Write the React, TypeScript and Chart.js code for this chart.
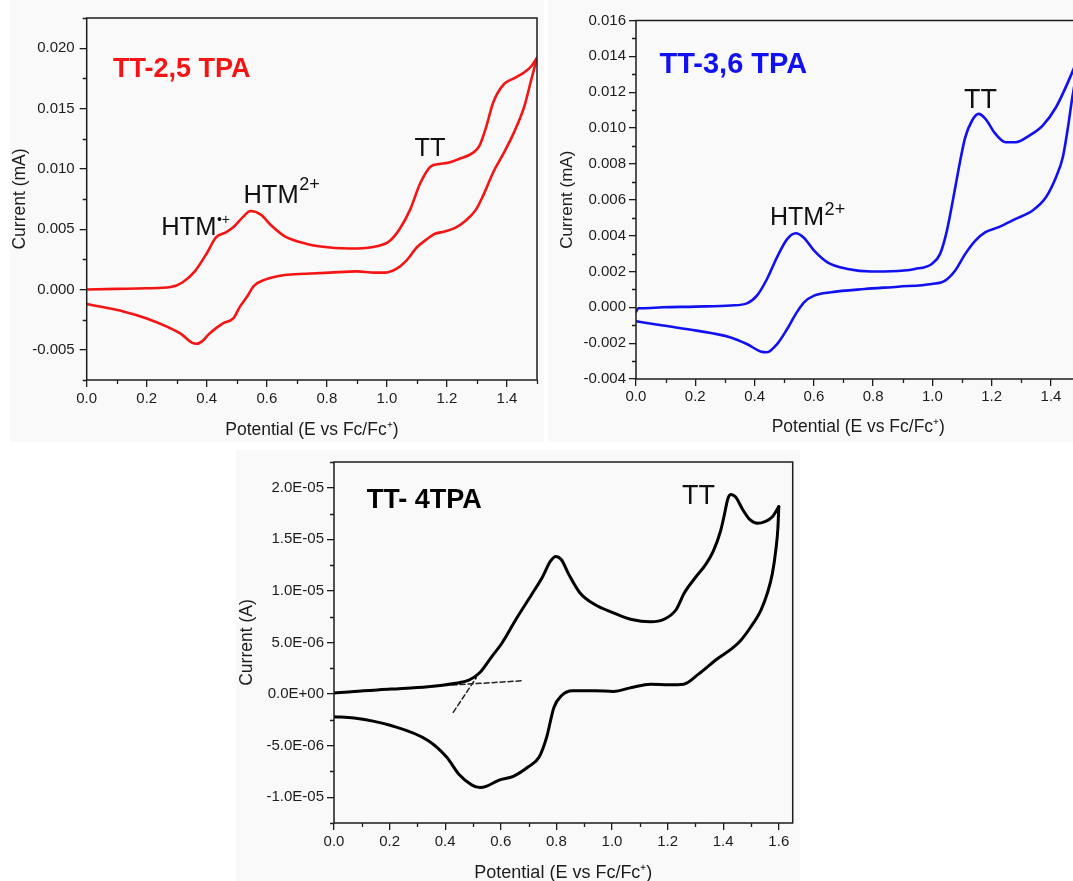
import React, { useEffect, useRef } from "react";
import { Chart, registerables } from "chart.js";

Chart.register(...registerables);

const FONT = '"Liberation Sans", Arial, Helvetica, sans-serif';
const BG = "#f9f9f9";
const INK = "#1c1c1c";

// ---------- Panel 1: TT-2,5 TPA (red) ----------
const p1FwdX = [0, 0.1, 0.2, 0.28, 0.32, 0.36, 0.4, 0.43, 0.465, 0.49, 0.52, 0.546, 0.58, 0.615, 0.66, 0.73, 0.81, 0.9, 0.97, 1.008, 1.042, 1.077, 1.111, 1.146, 1.175, 1.204, 1.238, 1.285, 1.308, 1.331, 1.354, 1.389, 1.423, 1.458, 1.481, 1.5];
const p1FwdY = [0, 0.00005, 0.0001, 0.0002, 0.0006, 0.0015, 0.003, 0.0043, 0.00475, 0.0052, 0.006, 0.0065, 0.0062, 0.0053, 0.0044, 0.0038, 0.00348, 0.0034, 0.0036, 0.004, 0.005, 0.0066, 0.0088, 0.0102, 0.0104, 0.0105, 0.0108, 0.0113, 0.0119, 0.0135, 0.0155, 0.017, 0.0175, 0.018, 0.0185, 0.0192];
const p1RevX = [1.5, 1.481, 1.458, 1.423, 1.389, 1.354, 1.319, 1.296, 1.262, 1.227, 1.192, 1.158, 1.135, 1.1, 1.065, 1.031, 0.996, 0.96, 0.9, 0.81, 0.73, 0.66, 0.592, 0.557, 0.534, 0.511, 0.488, 0.454, 0.431, 0.407, 0.384, 0.367, 0.35, 0.315, 0.269, 0.2, 0.119, 0.061, 0];
const p1RevY = [0.0192, 0.0174, 0.0152, 0.013, 0.0113, 0.0097, 0.0077, 0.0066, 0.0057, 0.0051, 0.0048, 0.0046, 0.0042, 0.0035, 0.0024, 0.0017, 0.0014, 0.0014, 0.0015, 0.0014, 0.0013, 0.0012, 0.0008, 0.0003, -0.0006, -0.0014, -0.0024, -0.0028, -0.0032, -0.0037, -0.0043, -0.0045, -0.0044, -0.0037, -0.0031, -0.0024, -0.0018, -0.0015, -0.0012];
const p1XTicks = [0, 0.2, 0.4, 0.6, 0.8, 1.0, 1.2, 1.4];
const p1XTickLabels = ["0.0", "0.2", "0.4", "0.6", "0.8", "1.0", "1.2", "1.4"];
const p1YTicks = [-0.005, 0, 0.005, 0.01, 0.015, 0.02];
const p1YTickLabels = ["-0.005", "0.000", "0.005", "0.010", "0.015", "0.020"];

// ---------- Panel 2: TT-3,6 TPA (blue) ----------
const p2FwdX = [0, 0.008, 0.02, 0.09, 0.2, 0.32, 0.374, 0.408, 0.442, 0.476, 0.51, 0.539, 0.567, 0.601, 0.646, 0.714, 0.794, 0.862, 0.941, 0.998, 1.026, 1.049, 1.071, 1.094, 1.111, 1.134, 1.156, 1.179, 1.213, 1.247, 1.281, 1.327, 1.372, 1.417, 1.472, 1.5];
const p2FwdY = [-0.00025, -0.00005, -0.00005, 0, 0.00004, 0.0001, 0.00022, 0.00065, 0.00158, 0.0028, 0.0038, 0.00413, 0.00387, 0.00316, 0.00251, 0.00214, 0.002, 0.00201, 0.00214, 0.00242, 0.00298, 0.00428, 0.00614, 0.00819, 0.00949, 0.01042, 0.01079, 0.01051, 0.00967, 0.00921, 0.00921, 0.00958, 0.01014, 0.01116, 0.01312, 0.0143];
const p2RevX = [1.5, 1.472, 1.457, 1.44, 1.417, 1.383, 1.338, 1.281, 1.224, 1.179, 1.145, 1.111, 1.077, 1.043, 0.998, 0.884, 0.771, 0.658, 0.601, 0.567, 0.539, 0.51, 0.476, 0.442, 0.42, 0.374, 0.317, 0.204, 0.091, 0];
const p2RevY = [0.0143, 0.0117, 0.01, 0.00837, 0.00726, 0.00614, 0.0054, 0.00493, 0.00447, 0.00419, 0.00372, 0.00298, 0.00205, 0.00149, 0.0013, 0.00115, 0.00102, 0.00084, 0.00065, 0.00028, -0.00037, -0.00121, -0.00205, -0.00251, -0.00246, -0.00205, -0.00167, -0.0013, -0.00102, -0.00078];
const p2XTicks = [0, 0.2, 0.4, 0.6, 0.8, 1.0, 1.2, 1.4];
const p2XTickLabels = ["0.0", "0.2", "0.4", "0.6", "0.8", "1.0", "1.2", "1.4"];
const p2YTicks = [-0.004, -0.002, 0, 0.002, 0.004, 0.006, 0.008, 0.01, 0.012, 0.014, 0.016];
const p2YTickLabels = ["-0.004", "-0.002", "0.000", "0.002", "0.004", "0.006", "0.008", "0.010", "0.012", "0.014", "0.016"];

// ---------- Panel 3: TT- 4TPA (black), current in A ----------
const p3FwdX = [0, 0.072, 0.205, 0.338, 0.432, 0.485, 0.525, 0.565, 0.605, 0.658, 0.711, 0.751, 0.778, 0.798, 0.818, 0.845, 0.885, 0.938, 1.005, 1.071, 1.138, 1.191, 1.231, 1.26, 1.3, 1.338, 1.364, 1.39, 1.404, 1.417, 1.428, 1.444, 1.471, 1.497, 1.524, 1.55, 1.577, 1.6];
const p3FwdY = [0.1e-6, 0.26e-6, 0.48e-6, 0.71e-6, 1.03e-6, 1.35e-6, 2.09e-6, 3.54e-6, 4.98e-6, 7.4e-6, 9.65e-6, 11.4e-6, 12.86e-6, 13.34e-6, 13.02e-6, 11.58e-6, 9.8e-6, 8.68e-6, 7.88e-6, 7.23e-6, 7.0e-6, 7.3e-6, 8.2e-6, 9.8e-6, 11.3e-6, 12.6e-6, 13.83e-6, 15.76e-6, 17.36e-6, 18.97e-6, 19.36e-6, 19.13e-6, 17.85e-6, 16.88e-6, 16.56e-6, 16.72e-6, 17.2e-6, 18.17e-6];
const p3RevX = [1.6, 1.597, 1.589, 1.577, 1.559, 1.535, 1.499, 1.463, 1.431, 1.378, 1.311, 1.258, 1.204, 1.138, 1.071, 1.005, 0.938, 0.858, 0.818, 0.791, 0.765, 0.738, 0.698, 0.645, 0.592, 0.552, 0.525, 0.495, 0.45, 0.405, 0.338, 0.205, 0.072, 0];
const p3RevY = [18.17e-6, 16.2e-6, 13.9e-6, 11.7e-6, 9.8e-6, 8.1e-6, 6.5e-6, 5.2e-6, 4.4e-6, 3.4e-6, 1.93e-6, 0.96e-6, 0.9e-6, 0.96e-6, 0.64e-6, 0.26e-6, 0.32e-6, 0.32e-6, -0.16e-6, -1.29e-6, -4.18e-6, -6.11e-6, -7.07e-6, -7.97e-6, -8.36e-6, -8.9e-6, -9.07e-6, -8.8e-6, -7.8e-6, -6.11e-6, -4.5e-6, -3.05e-6, -2.32e-6, -2.19e-6];
const p3BaseX = [0.425, 0.678];
const p3BaseY = [0.87e-6, 1.29e-6];
const p3SlopeX = [0.429, 0.512];
const p3SlopeY = [-1.77e-6, 1.6e-6];
const p3XTicks = [0, 0.2, 0.4, 0.6, 0.8, 1.0, 1.2, 1.4, 1.6];
const p3XTickLabels = ["0.0", "0.2", "0.4", "0.6", "0.8", "1.0", "1.2", "1.4", "1.6"];
const p3YTicks = [-1e-5, -5e-6, 0, 5e-6, 1e-5, 1.5e-5, 2e-5];
const p3YTickLabels = ["-1.0E-05", "-5.0E-06", "0.0E+00", "5.0E-06", "1.0E-05", "1.5E-05", "2.0E-05"];

type Series = { x: number[]; y: number[]; color: string; width: number; dash?: number[]; straight?: boolean };
type Note = { text: string; sup?: string; x: number; y: number; size: number; bold?: boolean; color: string; supSize?: number; supRaise?: number };
type PanelCfg = {
  left: number; top: number; w: number; h: number;
  area: { left: number; top: number; right: number; bottom: number };
  xMin: number; xMax: number; yMin: number; yMax: number;
  xTicks: number[]; xTickLabels: string[]; xMinor: number;
  yTicks: number[]; yTickLabels: string[]; yMinor: number;
  tickFont: number; xTickPad: number; yTickPad: number;
  xTitle: string; xTitleSize: number; xTitlePad: number;
  yTitle: string; yTitleSize: number; yTitlePad: number;
  series: Series[];
  notes: Note[];
};

const X_TITLE = "Potential (E vs Fc/Fc\u207A)";

const panels: PanelCfg[] = [
  {
    left: 10, top: 0, w: 534, h: 442,
    area: { left: 76.7, top: 18, right: 527, bottom: 380 },
    xMin: 0, xMax: 1.5, yMin: -0.0075, yMax: 0.0225,
    xTicks: p1XTicks, xTickLabels: p1XTickLabels, xMinor: 0.1,
    yTicks: p1YTicks, yTickLabels: p1YTickLabels, yMinor: 0.0025,
    tickFont: 15, xTickPad: 3, yTickPad: 5,
    xTitle: X_TITLE, xTitleSize: 17.5, xTitlePad: 1.5,
    yTitle: "Current (mA)", yTitleSize: 17.5, yTitlePad: 0,
    series: [
      { x: p1FwdX, y: p1FwdY, color: "#f41414", width: 2.6 },
      { x: p1RevX, y: p1RevY, color: "#f41414", width: 2.6 },
    ],
    notes: [
      { text: "TT-2,5 TPA", x: 0.0877, y: 0.01763, size: 27, bold: true, color: "#f41414" },
      { text: "HTM", sup: "\u2022+", x: 0.248, y: 0.004545, size: 25.5, color: "#111", supSize: 14, supRaise: 11 },
      { text: "HTM", sup: "2+", x: 0.522, y: 0.00717, size: 25.5, color: "#111", supSize: 18, supRaise: 12.6 },
      { text: "TT", x: 1.092, y: 0.01107, size: 25.5, color: "#111" },
    ],
  },
  {
    left: 548, top: 0, w: 542, h: 442,
    area: { left: 88, top: 20.5, right: 532.6, bottom: 379 },
    xMin: 0, xMax: 1.5, yMin: -0.004, yMax: 0.016,
    xTicks: p2XTicks, xTickLabels: p2XTickLabels, xMinor: 0.1,
    yTicks: p2YTicks, yTickLabels: p2YTickLabels, yMinor: 0.001,
    tickFont: 15, xTickPad: 2, yTickPad: 3,
    xTitle: X_TITLE, xTitleSize: 17.5, xTitlePad: 4.5,
    yTitle: "Current (mA)", yTitleSize: 17, yTitlePad: 8.8,
    series: [
      { x: p2FwdX, y: p2FwdY, color: "#1010f0", width: 2.6 },
      { x: p2RevX, y: p2RevY, color: "#1010f0", width: 2.6 },
    ],
    notes: [
      { text: "TT-3,6 TPA", x: 0.0793, y: 0.01306, size: 29, bold: true, color: "#1010f0" },
      { text: "TT", x: 1.107, y: 0.01111, size: 27, color: "#111" },
      { text: "HTM", sup: "2+", x: 0.452, y: 0.0046, size: 25, color: "#111", supSize: 18, supRaise: 10 },
    ],
  },
  {
    left: 236, top: 450, w: 564, h: 440,
    area: { left: 98, top: 10, right: 556.7, bottom: 373 },
    xMin: 0, xMax: 1.65, yMin: -1.25e-5, yMax: 2.25e-5,
    xTicks: p3XTicks, xTickLabels: p3XTickLabels, xMinor: 0.1,
    yTicks: p3YTicks, yTickLabels: p3YTickLabels, yMinor: 2.5e-6,
    tickFont: 15, xTickPad: 3, yTickPad: 3,
    xTitle: X_TITLE, xTitleSize: 18, xTitlePad: 6,
    yTitle: "Current (A)", yTitleSize: 17.5, yTitlePad: 0.5,
    series: [
      { x: p3FwdX, y: p3FwdY, color: "#000", width: 3 },
      { x: p3RevX, y: p3RevY, color: "#000", width: 3 },
      { x: p3BaseX, y: p3BaseY, color: "#222", width: 1.5, dash: [5, 3], straight: true },
      { x: p3SlopeX, y: p3SlopeY, color: "#222", width: 1.5, dash: [5, 3], straight: true },
    ],
    notes: [
      { text: "TT- 4TPA", x: 0.118, y: 1.802e-5, size: 27, bold: true, color: "#000" },
      { text: "TT", x: 1.252, y: 1.84e-5, size: 27, color: "#111" },
    ],
  },
];

function labelFor(ticks: number[], labels: string[], v: number) {
  const i = ticks.findIndex((t) => Math.abs(t - v) < 1e-12);
  return i >= 0 ? labels[i] : "";
}

function makeDecor(cfg: PanelCfg) {
  return {
    id: "decor",
    afterDraw(chart: any) {
      const { ctx, chartArea: a, scales } = chart;
      const xs = scales.x;
      const ys = scales.y;
      ctx.save();
      ctx.strokeStyle = INK;
      ctx.lineWidth = 1.3;
      ctx.beginPath();
      const isMajor = (arr: number[], v: number, eps: number) => arr.some((t) => Math.abs(t - v) < eps);
      const ys0 = Math.ceil(cfg.yMin / cfg.yMinor - 1e-9);
      for (let k = ys0; k * cfg.yMinor <= cfg.yMax + 1e-12; k++) {
        const v = k * cfg.yMinor;
        if (isMajor(cfg.yTicks, v, cfg.yMinor * 0.01)) continue;
        const py = Math.round(ys.getPixelForValue(v)) + 0.5;
        ctx.moveTo(a.left - 4, py);
        ctx.lineTo(a.left, py);
      }
      const xs0 = Math.ceil(cfg.xMin / cfg.xMinor - 1e-9);
      for (let k = xs0; k * cfg.xMinor <= cfg.xMax + 1e-9; k++) {
        const v = k * cfg.xMinor;
        if (isMajor(cfg.xTicks, v, cfg.xMinor * 0.01)) continue;
        const px = Math.round(xs.getPixelForValue(v)) + 0.5;
        ctx.moveTo(px, a.bottom);
        ctx.lineTo(px, a.bottom + 4);
      }
      ctx.stroke();
      ctx.lineWidth = 1.5;
      ctx.strokeRect(a.left, a.top, a.right - a.left, a.bottom - a.top);
      ctx.textBaseline = "alphabetic";
      ctx.textAlign = "left";
      for (const n of cfg.notes) {
        const px = xs.getPixelForValue(n.x);
        const py = ys.getPixelForValue(n.y);
        ctx.fillStyle = n.color;
        ctx.font = `${n.bold ? "bold " : ""}${n.size}px ${FONT}`;
        ctx.fillText(n.text, px, py);
        if (n.sup) {
          const w = ctx.measureText(n.text).width;
          ctx.font = `${n.supSize}px ${FONT}`;
          ctx.fillText(n.sup, px + w + 0.5, py - (n.supRaise || 0));
        }
      }
      ctx.restore();
    },
  };
}

function buildConfig(cfg: PanelCfg): any {
  const tickFont = { family: FONT, size: cfg.tickFont };
  return {
    type: "scatter",
    data: {
      datasets: cfg.series.map((s) => ({
        data: s.x.map((x, i) => ({ x, y: s.y[i] })),
        showLine: true,
        borderColor: s.color,
        backgroundColor: s.color,
        borderWidth: s.width,
        borderDash: s.dash || [],
        pointRadius: 0,
        pointHoverRadius: 0,
        cubicInterpolationMode: s.straight ? "default" : "monotone",
        tension: s.straight ? 0 : 0.4,
        fill: false,
        borderCapStyle: "round",
        borderJoinStyle: "round",
      })),
    },
    options: {
      responsive: false,
      animation: false,
      devicePixelRatio: 1,
      events: [],
      layout: { padding: { left: 0, top: cfg.area.top, right: cfg.w - cfg.area.right, bottom: 0 } },
      plugins: { legend: { display: false }, tooltip: { enabled: false }, title: { display: false } },
      scales: {
        x: {
          type: "linear",
          position: "bottom",
          min: cfg.xMin,
          max: cfg.xMax,
          afterBuildTicks: (s: any) => {
            s.ticks = cfg.xTicks.map((v) => ({ value: v }));
          },
          afterFit: (s: any) => {
            s.height = cfg.h - cfg.area.bottom;
          },
          ticks: {
            autoSkip: false,
            maxRotation: 0,
            padding: cfg.xTickPad,
            color: INK,
            font: tickFont,
            callback: (v: number) => labelFor(cfg.xTicks, cfg.xTickLabels, v),
          },
          grid: { display: true, drawOnChartArea: false, drawTicks: true, tickLength: 7, color: INK, lineWidth: 1.3 },
          border: { display: false },
          title: {
            display: true,
            text: cfg.xTitle,
            color: INK,
            font: { family: FONT, size: cfg.xTitleSize },
            padding: { top: 0, bottom: cfg.xTitlePad },
          },
        },
        y: {
          type: "linear",
          position: "left",
          min: cfg.yMin,
          max: cfg.yMax,
          afterBuildTicks: (s: any) => {
            s.ticks = cfg.yTicks.map((v) => ({ value: v }));
          },
          afterFit: (s: any) => {
            s.width = cfg.area.left;
          },
          ticks: {
            autoSkip: false,
            padding: cfg.yTickPad,
            color: INK,
            font: tickFont,
            callback: (v: number) => labelFor(cfg.yTicks, cfg.yTickLabels, v),
          },
          grid: { display: true, drawOnChartArea: false, drawTicks: true, tickLength: 7, color: INK, lineWidth: 1.3 },
          border: { display: false },
          title: {
            display: true,
            text: cfg.yTitle,
            color: INK,
            font: { family: FONT, size: cfg.yTitleSize },
            padding: { top: cfg.yTitlePad, bottom: 0 },
          },
        },
      },
    },
    plugins: [makeDecor(cfg)],
  };
}

function Panel({ cfg }: { cfg: PanelCfg }) {
  const ref = useRef<HTMLCanvasElement | null>(null);
  useEffect(() => {
    const c = ref.current;
    if (!c) return;
    const chart = new Chart(c, buildConfig(cfg));
    return () => chart.destroy();
  }, [cfg]);
  return (
    <canvas
      ref={ref}
      width={cfg.w}
      height={cfg.h}
      style={{ position: "absolute", left: cfg.left, top: cfg.top, width: cfg.w, height: cfg.h, background: BG, display: "block" }}
    />
  );
}

export default function App() {
  return (
    <div style={{ position: "fixed", left: 0, top: 0, width: 1073, height: 881, overflow: "hidden", background: "#fff" }}>
      {panels.map((p, i) => (
        <Panel key={i} cfg={p} />
      ))}
    </div>
  );
}
